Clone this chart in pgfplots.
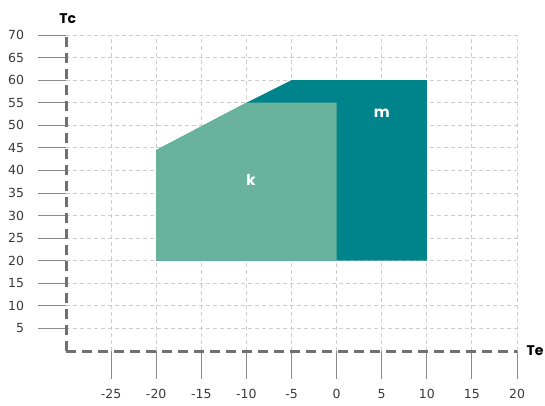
\documentclass[border=0pt]{standalone}
\usepackage{pgfplots}
\pgfplotsset{compat=1.18}
\usepackage{fontspec}
\setmainfont{DejaVu Sans}
\newfontfamily\titlefont{Poppins}
\definecolor{mteal}{HTML}{00848B}
\definecolor{kgreen}{HTML}{69B39C}
\definecolor{axgray}{HTML}{707070}
\definecolor{tickgray}{HTML}{8A8A8A}
\definecolor{gridgray}{HTML}{CDCDCD}
\definecolor{labelgray}{HTML}{3A3A3A}
\begin{document}
\begin{tikzpicture}
\useasboundingbox (-66pt,-54pt) rectangle (479pt,351pt);
\begin{axis}[
  at={(0pt,0pt)}, anchor=south west,
  scale only axis, width=451pt, height=316pt,
  xmin=-30, xmax=20, ymin=0, ymax=70,
  axis x line=bottom, axis y line=left,
  axis line style={-, draw=axgray, line width=3pt, dash pattern=on 10pt off 6pt},
  xtick={-25,-20,...,20}, ytick={5,10,...,70},
  tick align=outside, major tick length=28pt,
  tick style={draw=tickgray, line width=0.9pt, solid},
  grid=major,
  grid style={draw=gridgray, line width=0.9pt, dash pattern=on 4pt off 3pt},
  /pgf/number format/assume math mode=true,
  tick label style={font=\fontsize{12.5}{14}\selectfont, text=labelgray},
  xticklabel style={yshift=-7pt},
  yticklabel style={xshift=-10.5pt},
  clip=false,
]
\addplot[fill=mteal, draw=none] coordinates {(-20,20) (-20,44.5) (-10,55) (-5,60) (10,60) (10,20)} -- cycle;
\addplot[fill=kgreen, draw=none] coordinates {(-20,20) (-20,44.5) (-10,55) (0,55) (0,20)} -- cycle;
\node[text=white, font=\titlefont\bfseries\fontsize{15}{17}\selectfont] at (axis cs:5,52.7) {m};
\node[text=white, font=\titlefont\bfseries\fontsize{15}{17}\selectfont] at (axis cs:-9.5,38) {k};
\node[text=black, font=\titlefont\bfseries\fontsize{14}{16}\selectfont] at (axis cs:-29.8,73.7) {Tc};
\node[text=black, font=\titlefont\bfseries\fontsize{14}{16}\selectfont] at (axis cs:22,0) {Te};
\end{axis}
\end{tikzpicture}
\end{document}
